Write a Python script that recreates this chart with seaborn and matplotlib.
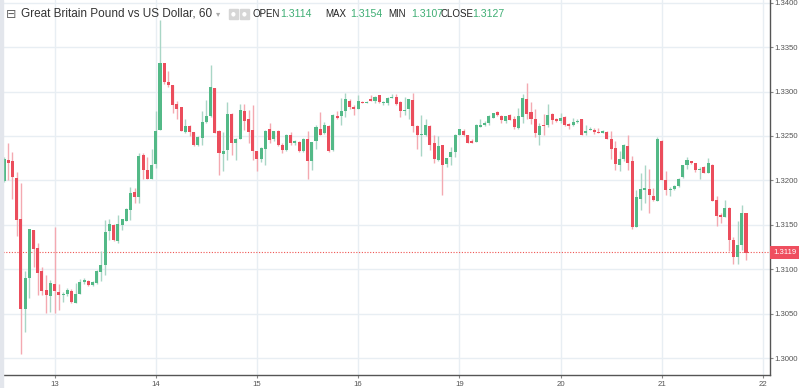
import numpy as np
import pandas as pd
import seaborn as sns
import matplotlib
matplotlib.use("Agg")
import matplotlib.pyplot as plt
from matplotlib.patches import Rectangle

# ---------------- data (GBP/USD, 60 min candles) ----------------
opens = [1.31996, 1.32229, 1.32215, 1.32027, 1.31569, 1.30555, 1.30901, 1.31441, 1.31239, 1.30976,
         1.30766, 1.30698, 1.30833, 1.30743, 1.30706, 1.30721, 1.30758, 1.30623, 1.30721, 1.30856,
         1.30870, 1.30819, 1.30848, 1.30968, 1.31051, 1.31427, 1.31501, 1.31314, 1.31501, 1.31546,
         1.31666, 1.31869, 1.31816, 1.32282, 1.32117, 1.32012, 1.32184, 1.32567, 1.33318, 1.33108,
         1.33071, 1.32860, 1.32823, 1.32545, 1.32612, 1.32545, 1.32395, 1.32477, 1.32657, 1.32725,
         1.33040, 1.32559, 1.32297, 1.32342, 1.32747, 1.32418, 1.32469, 1.32785, 1.32688, 1.32567,
         1.32327, 1.32244, 1.32350, 1.32575, 1.32463, 1.32559, 1.32402, 1.32342, 1.32508, 1.32418,
         1.32432, 1.32327, 1.32463, 1.32215, 1.32440, 1.32582, 1.32537, 1.32612, 1.32342, 1.32725,
         1.32725, 1.32778, 1.32897, 1.32830, 1.32800, 1.32883, 1.32875, 1.32920, 1.32890, 1.32958,
         1.32875, 1.32875, 1.32928, 1.32942, 1.32883, 1.32778, 1.32800, 1.32905, 1.32612, 1.32514,
         1.32508, 1.32612, 1.32418, 1.32229, 1.32395, 1.32184, 1.32260, 1.32320, 1.32514, 1.32559,
         1.32508, 1.32440, 1.32432, 1.32604, 1.32620, 1.32643, 1.32702, 1.32770, 1.32725, 1.32665,
         1.32740, 1.32688, 1.32590, 1.32717, 1.32913, 1.32770, 1.32688, 1.32514, 1.32627, 1.32620,
         1.32747, 1.32688, 1.32665, 1.32710, 1.32635, 1.32620, 1.32657, 1.32688, 1.32537, 1.32567,
         1.32567, 1.32545, 1.32537, 1.32545, 1.32469, 1.32365, 1.32170, 1.32237, 1.32387, 1.32215,
         1.31478, 1.31794, 1.31892, 1.31900, 1.31824, 1.31771, 1.32447, 1.32004, 1.31892, 1.31900,
         1.31937, 1.32035, 1.32170, 1.32215, 1.32192, 1.32117, 1.32147, 1.32086, 1.32177, 1.31779,
         1.31607, 1.31591, 1.31689, 1.31329, 1.31134, 1.31276, 1.31629]
highs = [1.32263, 1.32424, 1.32320, 1.32094, 1.31974, 1.30983, 1.31449, 1.31441, 1.31292, 1.31028,
         1.30931, 1.30878, 1.31478, 1.30833, 1.30743, 1.30788, 1.30780, 1.30845, 1.30893, 1.30901,
         1.30878, 1.30867, 1.30991, 1.31208, 1.31554, 1.31569, 1.31509, 1.31614, 1.31569, 1.31689,
         1.31929, 1.31914, 1.32312, 1.32305, 1.32267, 1.32357, 1.32778, 1.33806, 1.33321, 1.33228,
         1.33074, 1.32897, 1.32826, 1.32688, 1.32627, 1.32550, 1.32497, 1.32778, 1.32905, 1.33296,
         1.33045, 1.32562, 1.32545, 1.32883, 1.32755, 1.32475, 1.32860, 1.32860, 1.32792, 1.32852,
         1.32332, 1.32379, 1.32567, 1.32650, 1.32559, 1.32567, 1.32417, 1.32520, 1.32545, 1.32455,
         1.32443, 1.32472, 1.32553, 1.32435, 1.32620, 1.32770, 1.32657, 1.32620, 1.32747, 1.32778,
         1.32928, 1.32981, 1.32920, 1.32852, 1.32958, 1.32890, 1.32890, 1.32965, 1.32950, 1.32965,
         1.32890, 1.32935, 1.32973, 1.32973, 1.32890, 1.32942, 1.32920, 1.32981, 1.32620, 1.32740,
         1.32688, 1.32620, 1.32508, 1.32500, 1.32400, 1.32255, 1.32379, 1.32520, 1.32580, 1.32579,
         1.32512, 1.32469, 1.32635, 1.32688, 1.32665, 1.32733, 1.32762, 1.32778, 1.32740, 1.32730,
         1.32747, 1.32725, 1.32815, 1.32973, 1.33093, 1.32883, 1.32807, 1.32643, 1.32747, 1.32860,
         1.32762, 1.32702, 1.32762, 1.32725, 1.32650, 1.32702, 1.32695, 1.32695, 1.32620, 1.32598,
         1.32590, 1.32590, 1.32562, 1.32559, 1.32553, 1.32440, 1.32327, 1.32410, 1.32514, 1.32275,
         1.31892, 1.32086, 1.32170, 1.32125, 1.31914, 1.32492, 1.32455, 1.32102, 1.31929, 1.31945,
         1.32025, 1.32177, 1.32267, 1.32222, 1.32199, 1.32154, 1.32162, 1.32252, 1.32180, 1.31824,
         1.31636, 1.31779, 1.31695, 1.31366, 1.31546, 1.31719, 1.31636]
lows = [1.31982, 1.32004, 1.31794, 1.31374, 1.30045, 1.30293, 1.30676, 1.31028, 1.30706, 1.30706,
        1.30503, 1.30518, 1.30503, 1.30540, 1.30631, 1.30698, 1.30616, 1.30619, 1.30721, 1.30833,
        1.30811, 1.30811, 1.30833, 1.30870, 1.30938, 1.31329, 1.31321, 1.31298, 1.31441, 1.31539,
        1.31554, 1.31742, 1.31742, 1.32019, 1.32019, 1.32012, 1.32139, 1.32567, 1.33085, 1.33055,
        1.32755, 1.32695, 1.32556, 1.32537, 1.32500, 1.32390, 1.32390, 1.32402, 1.32643, 1.32717,
        1.32532, 1.32064, 1.32109, 1.32229, 1.32282, 1.32229, 1.32464, 1.32567, 1.32418, 1.32229,
        1.32102, 1.32207, 1.32170, 1.32424, 1.32447, 1.32390, 1.32305, 1.32335, 1.32395, 1.32404,
        1.32320, 1.32320, 1.32019, 1.32117, 1.32350, 1.32507, 1.32522, 1.32320, 1.32336, 1.32695,
        1.32620, 1.32710, 1.32807, 1.32740, 1.32800, 1.32868, 1.32868, 1.32890, 1.32875, 1.32868,
        1.32852, 1.32852, 1.32928, 1.32852, 1.32710, 1.32733, 1.32695, 1.32545, 1.32350, 1.32275,
        1.32500, 1.32342, 1.32199, 1.32215, 1.31832, 1.32154, 1.32170, 1.32260, 1.32510, 1.32500,
        1.32420, 1.32420, 1.32428, 1.32598, 1.32612, 1.32627, 1.32697, 1.32725, 1.32643, 1.32646,
        1.32675, 1.32582, 1.32575, 1.32643, 1.32695, 1.32635, 1.32485, 1.32402, 1.32514, 1.32604,
        1.32635, 1.32657, 1.32650, 1.32612, 1.32582, 1.32612, 1.32650, 1.32510, 1.32508, 1.32562,
        1.32522, 1.32530, 1.32530, 1.32462, 1.32244, 1.32117, 1.32109, 1.32222, 1.32117, 1.31449,
        1.31470, 1.31666, 1.31742, 1.31636, 1.31764, 1.31771, 1.32000, 1.31839, 1.31824, 1.31892,
        1.31930, 1.32027, 1.32132, 1.32184, 1.32094, 1.32019, 1.32080, 1.32080, 1.31764, 1.31486,
        1.31517, 1.31585, 1.31208, 1.31058, 1.31058, 1.31216, 1.31103]
closes = [1.32237, 1.32199, 1.32035, 1.31554, 1.30555, 1.30901, 1.31449, 1.31224, 1.30954, 1.30758,
          1.30713, 1.30841, 1.30751, 1.30706, 1.30721, 1.30766, 1.30631, 1.30721, 1.30856, 1.30878,
          1.30825, 1.30856, 1.30976, 1.31051, 1.31419, 1.31509, 1.31329, 1.31509, 1.31562, 1.31681,
          1.31855, 1.31809, 1.32275, 1.32117, 1.32019, 1.32170, 1.32559, 1.33318, 1.33108, 1.33071,
          1.32852, 1.32807, 1.32559, 1.32612, 1.32545, 1.32395, 1.32492, 1.32657, 1.32725, 1.33048,
          1.32537, 1.32312, 1.32327, 1.32747, 1.32424, 1.32469, 1.32792, 1.32672, 1.32545, 1.32327,
          1.32244, 1.32365, 1.32559, 1.32455, 1.32553, 1.32395, 1.32342, 1.32514, 1.32424, 1.32440,
          1.32327, 1.32463, 1.32222, 1.32432, 1.32598, 1.32514, 1.32620, 1.32327, 1.32740, 1.32702,
          1.32778, 1.32913, 1.32830, 1.32807, 1.32890, 1.32875, 1.32883, 1.32897, 1.32935, 1.32883,
          1.32883, 1.32928, 1.32942, 1.32860, 1.32785, 1.32792, 1.32913, 1.32612, 1.32508, 1.32522,
          1.32620, 1.32402, 1.32244, 1.32387, 1.32170, 1.32252, 1.32320, 1.32514, 1.32575, 1.32508,
          1.32424, 1.32424, 1.32620, 1.32620, 1.32650, 1.32725, 1.32755, 1.32733, 1.32680, 1.32725,
          1.32680, 1.32604, 1.32725, 1.32928, 1.32747, 1.32695, 1.32537, 1.32612, 1.32612, 1.32733,
          1.32680, 1.32665, 1.32702, 1.32627, 1.32612, 1.32657, 1.32672, 1.32514, 1.32559, 1.32582,
          1.32545, 1.32537, 1.32559, 1.32469, 1.32350, 1.32184, 1.32244, 1.32395, 1.32199, 1.31472,
          1.31809, 1.31900, 1.31914, 1.31832, 1.31779, 1.32463, 1.32004, 1.31892, 1.31906, 1.31937,
          1.32019, 1.32170, 1.32229, 1.32192, 1.32117, 1.32132, 1.32086, 1.32192, 1.31771, 1.31599,
          1.31591, 1.31689, 1.31329, 1.31141, 1.31276, 1.31636, 1.31186]

day_labels = ["13", "14", "15", "16", "19", "20", "21", "22"]
day_first_bar = [12, 36, 60, 84, 108, 132, 156, 180]   # bar index of each day's 00:00
price_ticks = [1.3000, 1.3050, 1.3100, 1.3150, 1.3200, 1.3250, 1.3300, 1.3350, 1.3400]
last_price = 1.3119
title_text = "Great Britain Pound vs US Dollar, 60"
field_names = ["OPEN", "MAX", "MIN", "CLOSE"]
field_values = ["1.3114", "1.3154", "1.3107", "1.3127"]

# ---------------- styling ----------------
sns.set_theme(style="white")
plt.rcParams['font.family'] = ['Liberation Sans', 'DejaVu Sans']

UP = "#53b987"
DOWN = "#eb4d5c"
UP_WICK = "#a9d6c6"
DOWN_WICK = "#f4a9b1"
GRID = "#e8eef3"

df = pd.DataFrame({"open": opens, "high": highs, "low": lows, "close": closes})
df["i"] = np.arange(len(df))
df["up"] = df["close"] >= df["open"]
df["body_lo"] = df[["open", "close"]].min(axis=1)
df["body_h"] = (df["close"] - df["open"]).abs().clip(lower=0.00012)

W, H = 800, 388
fig = plt.figure(figsize=(W / 100, H / 100), dpi=100, facecolor="white")
ax_l, ax_r, ax_b = 3, 770, 375
ax = fig.add_axes([ax_l / W, (H - ax_b) / H, (ax_r - ax_l) / W, ax_b / H])
ax.set_facecolor("white")

bar_px = 4.216
x0 = -(4 - ax_l) / bar_px
ax.set_xlim(x0, x0 + (ax_r - ax_l) / bar_px)
ax.set_ylim(1.29809, 1.34031)

# wicks
ax.vlines(df["i"], df["low"], df["high"],
          colors=np.where(df["up"], UP_WICK, DOWN_WICK), linewidth=1.0, zorder=2)
# bodies
ax.bar(df["i"], df["body_h"], bottom=df["body_lo"], width=0.72,
       color=np.where(df["up"], UP, DOWN), linewidth=0, zorder=3)

# grid & axes
ax.set_xticks(day_first_bar)
ax.set_xticklabels(day_labels)
ax.set_yticks(price_ticks)
ax.set_yticklabels([f"{p:.4f}" for p in price_ticks])
ax.grid(True, color=GRID, linewidth=1.0, zorder=0)
ax.yaxis.tick_right()
for s in ["top", "left"]:
    ax.spines[s].set_visible(False)
for s in ["right", "bottom"]:
    ax.spines[s].set_visible(True)
    ax.spines[s].set_color("#555555")
    ax.spines[s].set_linewidth(1.0)
ax.tick_params(axis="y", which="both", right=True, left=False, direction="out",
               length=2, width=0.8, color="#888888", labelsize=5.6, labelcolor="#555555", pad=1)
ax.tick_params(axis="x", which="both", bottom=True, direction="out",
               length=2.5, width=0.8, color="#888888", labelsize=5.6, labelcolor="#555555", pad=2)

# last price line and label
ax.axhline(last_price, color="#ef5350", linewidth=0.8, linestyle=(0, (1, 1.5)), zorder=1)
ax.annotate(f"{last_price:.4f}", xy=(1.0, last_price), xycoords=ax.get_yaxis_transform(),
            xytext=(2.2, 0), textcoords="offset points", ha="left", va="center",
            color="white", fontsize=5.6,
            bbox=dict(boxstyle="square,pad=0.35", fc="#ef4f5f", ec="none"),
            annotation_clip=False, zorder=5)

# left gray strip
fig.patches.append(Rectangle((0, 0), ax_l / W, 1, transform=fig.transFigure,
                             color="#e3e6ec", zorder=0))

# header
def fx(px):
    return px / W

hy = 1 - 14 / H
fig.text(fx(6), hy, "⊟", fontsize=9, color="#666666", va="center", ha="left",
         family=["DejaVu Sans"])
fig.text(fx(21), hy, title_text, fontsize=8.5, color="#333333", va="center", ha="left")
fig.text(fx(216), hy, "▾", fontsize=6, color="#aaaaaa", va="center", ha="left",
         family=["DejaVu Sans"])
for px in (229, 240):
    fig.patches.append(Rectangle((fx(px), 1 - 19 / H), 9 / W, 10 / H,
                                 transform=fig.transFigure, color="#d6d6d6", zorder=4))
    fig.text(fx(px + 4.5), hy, "●", fontsize=4, color="white", va="center", ha="center",
             family=["DejaVu Sans"], zorder=5)
name_x = [253, 325, 388, 440]
val_x = [280, 350, 411, 472]
for n, v, nx, vx in zip(field_names, field_values, name_x, val_x):
    fig.text(fx(nx), hy, n, fontsize=7, color="#222222", va="center", ha="left")
    fig.text(fx(vx), hy, v, fontsize=7.6, color="#3fae74", va="center", ha="left")

fig.savefig("out.png", dpi=100, facecolor="white")
